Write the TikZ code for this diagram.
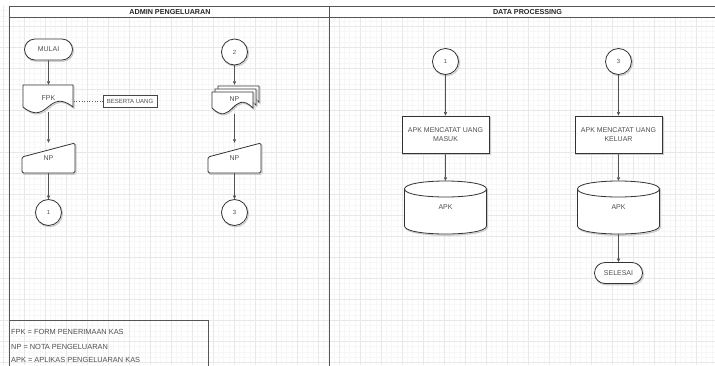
\documentclass[tikz,border=0pt]{standalone}
\usepackage{fontspec}
\setmainfont{Liberation Sans}
\usetikzlibrary{arrows.meta,shapes.misc}
\definecolor{ln}{HTML}{333333}
\definecolor{txt}{HTML}{505050}
\definecolor{frm}{HTML}{555555}
\tikzset{
  lbl/.style={font=\fontsize{7}{8.5}\selectfont, text=txt, align=center, inner sep=0pt},
  shp/.style={draw=ln, line width=0.8pt, fill=white,
    preaction={draw=black!20, line width=1.2pt, transform canvas={xshift=1pt,yshift=-1.2pt}}},
  conn/.style={circle, shp, minimum size=26pt, inner sep=0pt, lbl, font=\fontsize{6}{7}\selectfont},
  term/.style={rounded rectangle, shp, minimum width=48pt, minimum height=21pt, lbl},
  proc/.style={rectangle, shp, minimum width=87pt, minimum height=37pt, lbl},
  anchorbox/.style={rectangle, draw=none, lbl},
  arr/.style={-{Triangle[length=3.5pt,width=3pt]}, draw=ln!85, line width=0.6pt},
  frameline/.style={draw=frm, line width=0.9pt},
  legend/.style={font=\fontsize{7.4}{9}\selectfont, text=txt, anchor=west, inner sep=0pt},
  head/.style={font=\bfseries\fontsize{7.2}{8.5}\selectfont, text=black!85, inner sep=0pt},
}
\begin{document}
\begin{tikzpicture}[x=1pt,y=-1pt]
\useasboundingbox (0,0) rectangle (715,365);
% grid
\fill[white] (0,0) rectangle (715,365);
\foreach \i in {0,...,136} {
  \draw[black!3, line width=0.3pt] ({3+5.25*\i},0) -- ({3+5.25*\i},365);
}
\foreach \i in {0,...,70} {
  \draw[black!3, line width=0.3pt] (0,{5.3+5.25*\i}) -- (715,{5.3+5.25*\i});
}
\foreach \i in {0,...,34} {
  \draw[black!9, line width=0.4pt] ({3+21*\i},0) -- ({3+21*\i},365);
}
\foreach \i in {0,...,17} {
  \draw[black!9, line width=0.4pt] (0,{5.3+21*\i}) -- (715,{5.3+21*\i});
}
\fill[white] (0,0) rectangle (715,6);
\fill[white] (9,6) rectangle (715,17.5);
% lanes
\draw[frameline] (9,370) -- (9,6) -- (720,6);
\draw[frameline] (9,17.5) -- (720,17.5);
\draw[frameline] (329,6) -- (329,370);
\node[head] (h1) at (170,11.8) {ADMIN PENGELUARAN};
\node[head] (h2) at (527.5,11.8) {DATA PROCESSING};

% ---------- left lane, column 1
\node[term] (mulai) at (48.5,49.5) {MULAI};
\draw[shp] (23,85) -- (73,85) -- (73,107) .. controls (48,87) and (48,127) .. (23,107) -- cycle;
\node[anchorbox, minimum width=50pt, minimum height=27pt] (fpk) at (48.5,98.5) {FPK};
\node[rectangle, draw=ln!90, line width=0.6pt, fill=white, minimum width=54pt, minimum height=12pt, inner sep=0pt,
      font=\fontsize{6}{7}\selectfont, text=txt] (beserta) at (130,101) {BESERTA UANG};
\draw[ln!80, line width=0.7pt, dash pattern=on 1pt off 1.6pt] (beserta.west -| fpk.east) -- (beserta.west);
\draw[shp, rounded corners=1.5pt] (22,157) -- (75,143) -- (75,173) -- (22,173) -- cycle;
\node[anchorbox, minimum width=53pt, minimum height=30pt] (npl) at (48.5,158) {NP};
\node[conn] (c1l) at (48.5,212.5) {1};
\draw[arr] (mulai) -- (fpk.north);
\draw[arr] (fpk.south) -- (npl.north);
\draw[arr] (npl.south) -- (c1l);

% ---------- left lane, column 2
\node[conn] (c2) at (234.5,52) {2};
\draw[shp] (218,86) -- (259,86) -- (259,102) .. controls (238.5,82) and (238.5,122) .. (218,102) -- cycle;
\draw[shp] (215,89) -- (256,89) -- (256,105) .. controls (235.5,85) and (235.5,125) .. (215,105) -- cycle;
\draw[shp] (212,92) -- (253,92) -- (253,108) .. controls (232.5,88) and (232.5,128) .. (212,108) -- cycle;
\node[anchorbox, minimum width=46pt, minimum height=29pt] (npm) at (234.5,99.5) {NP};
\draw[shp, rounded corners=1.5pt] (208,157) -- (261,143) -- (261,173) -- (208,173) -- cycle;
\node[anchorbox, minimum width=53pt, minimum height=30pt] (npr) at (234.5,158) {NP};
\node[conn] (c3l) at (234.5,212.5) {3};
\draw[arr] (c2) -- (npm.north);
\draw[arr] (npm.south) -- (npr.north);
\draw[arr] (npr.south) -- (c3l);

% ---------- legend
\draw[frameline, line width=0.7pt] (9,320) -- (208,320) -- (208,370);
\node[legend] (l1) at (11,332) {FPK = FORM PENERIMAAN KAS};
\node[legend] (l2) at (11,346.5) {NP = NOTA PENGELUARAN};
\node[legend] (l3) at (11,359.5) {APK = APLIKAS PENGELUARAN KAS};

% ---------- right lane
\node[conn] (c1r) at (445.5,61.5) {1};
\node[proc] (p1) at (445.5,134.5) {APK MENCATAT UANG\\MASUK};
\draw[shp] (404.5,189) -- (404.5,226) .. controls (404.5,236.67) and (486.5,236.67) .. (486.5,226) -- (486.5,189) .. controls (486.5,178.33) and (404.5,178.33) .. cycle;
\draw[ln, line width=0.8pt] (404.5,189) .. controls (404.5,199.67) and (486.5,199.67) .. (486.5,189);
\node[anchorbox, minimum width=82pt, minimum height=53pt] (cyl1) at (445.5,207.5) {APK};
\draw[arr] (c1r) -- (p1.north);
\draw[arr] (p1.south) -- (cyl1.north);

\node[conn] (c3r) at (618.5,61.5) {3};
\node[proc] (p2) at (618.5,134.5) {APK MENCATAT UANG\\KELUAR};
\draw[shp] (577.5,189) -- (577.5,226) .. controls (577.5,236.67) and (659.5,236.67) .. (659.5,226) -- (659.5,189) .. controls (659.5,178.33) and (577.5,178.33) .. cycle;
\draw[ln, line width=0.8pt] (577.5,189) .. controls (577.5,199.67) and (659.5,199.67) .. (659.5,189);
\node[anchorbox, minimum width=82pt, minimum height=53pt] (cyl2) at (618.5,207.5) {APK};
\node[term] (selesai) at (618.5,273) {SELESAI};
\draw[arr] (c3r) -- (p2.north);
\draw[arr] (p2.south) -- (cyl2.north);
\draw[arr] (cyl2.south) -- (selesai.north);
\end{tikzpicture}
\end{document}
